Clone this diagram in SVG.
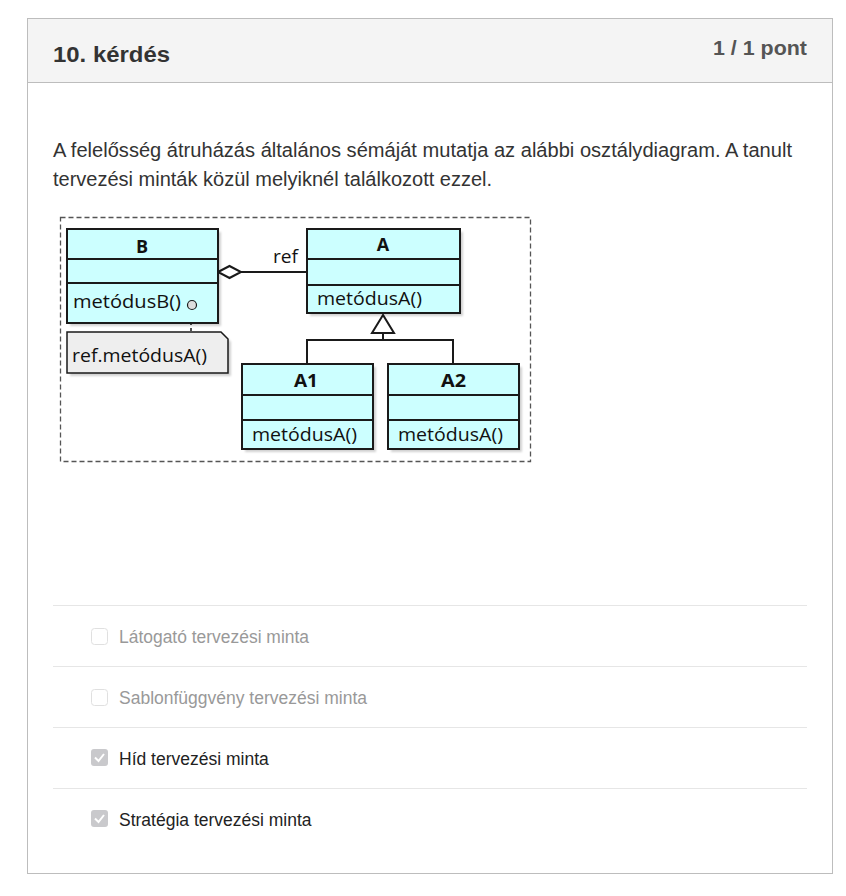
<svg xmlns="http://www.w3.org/2000/svg" width="846" height="896" viewBox="0 0 846 896">
<defs>
<style>
.ui{font-family:Arial,"Liberation Sans",sans-serif}
.dg{font-family:"Open Sans","Noto Sans",sans-serif;fill:#111;font-size:18px}
.cls{fill:#ccffff;stroke:#1a1a1a;stroke-width:2}
.sep{stroke:#1a1a1a;stroke-width:2}
.con{stroke:#1a1a1a;stroke-width:2;fill:none}
.shadow{fill:#000;opacity:0.18}
.hr{stroke:#e6e6e6;stroke-width:1}
.cb{fill:#fff;stroke:#e0e0e0;stroke-width:1}
.cbc{fill:#c9c9cc;stroke:none}
.opt{font-size:17.5px}
</style>
<filter id="blur" x="-10%" y="-10%" width="130%" height="130%"><feGaussianBlur stdDeviation="1.2"/></filter>
</defs>
<rect x="0" y="0" width="846" height="896" fill="#fff"/>
<g id="card">
<rect x="27.5" y="18.5" width="805" height="855" fill="#fff" stroke="#bdbdbd"/>
<rect x="28" y="19" width="804" height="63" fill="#f4f4f4"/>
<line x1="28" y1="82.5" x2="832" y2="82.5" stroke="#bdbdbd"/>
<text class="ui" x="53" y="62" font-size="22" font-weight="bold" fill="#333" textLength="117" lengthAdjust="spacingAndGlyphs">10. kérdés</text>
<text class="ui" x="713" y="55" font-size="21" font-weight="bold" fill="#555" textLength="94" lengthAdjust="spacingAndGlyphs">1 / 1 pont</text>
<text class="ui" x="53" y="157" font-size="20" fill="#333" textLength="739" lengthAdjust="spacingAndGlyphs">A felelősség átruházás általános sémáját mutatja az alábbi osztálydiagram. A tanult</text>
<text class="ui" x="53" y="186" font-size="20" fill="#333">tervezési minták közül melyiknél találkozott ezzel.</text>
</g>
<g id="frame">
<rect x="60.5" y="217.5" width="470" height="244" fill="#fff" stroke="#555" stroke-width="1.3" stroke-dasharray="5,3"/>
</g>
<g id="connectors">
<line class="con" x1="241" y1="272" x2="307" y2="272"/>
<polygon points="218,272 229.5,266 241,272 229.5,278" fill="#fff" stroke="#1a1a1a" stroke-width="2"/>
<text class="dg" x="273" y="263" textLength="25" lengthAdjust="spacingAndGlyphs">ref</text>
<polyline class="con" points="307,364 307,340 453,340 453,364"/>
<line class="con" x1="383" y1="333" x2="383" y2="340"/>
<polygon points="383,315 372,333 394,333" fill="#fff" stroke="#1a1a1a" stroke-width="2"/>
<line x1="191" y1="310" x2="191" y2="332" stroke="#1a1a1a" stroke-width="1.5" stroke-dasharray="3,3"/>
</g>
<g id="B">
<rect class="shadow" x="70" y="232" width="151" height="94" filter="url(#blur)"/>
<rect class="cls" x="67" y="229" width="151" height="94"/>
<line class="sep" x1="67" y1="259" x2="218" y2="259"/>
<line class="sep" x1="67" y1="283" x2="218" y2="283"/>
<text class="dg" x="142" y="253" font-weight="bold" text-anchor="middle">B</text>
<text class="dg" x="73" y="308" textLength="108" lengthAdjust="spacingAndGlyphs">metódusB()</text>
<circle cx="192" cy="305" r="4.5" fill="#ddd" stroke="#1a1a1a" stroke-width="1.2"/>
</g>
<g id="note">
<path d="M70,335 H224 L231,342 V376 H70 Z" class="shadow" filter="url(#blur)"/>
<path d="M67,332 H221 L228,339 V373 H67 Z" fill="#eeeeee" stroke="#1a1a1a" stroke-width="1.5"/>
<text class="dg" x="72" y="362" textLength="135" lengthAdjust="spacingAndGlyphs">ref.metódusA()</text>
</g>
<g id="A">
<rect class="shadow" x="310" y="232" width="153" height="84" filter="url(#blur)"/>
<rect class="cls" x="307" y="229" width="153" height="84"/>
<line class="sep" x1="307" y1="259" x2="460" y2="259"/>
<line class="sep" x1="307" y1="285" x2="460" y2="285"/>
<text class="dg" x="383" y="251" font-weight="bold" text-anchor="middle">A</text>
<text class="dg" x="317" y="305" textLength="105" lengthAdjust="spacingAndGlyphs">metódusA()</text>
</g>
<g id="A1">
<rect class="shadow" x="245" y="367" width="131" height="85" filter="url(#blur)"/>
<rect class="cls" x="242" y="364" width="131" height="85"/>
<line class="sep" x1="242" y1="395" x2="373" y2="395"/>
<line class="sep" x1="242" y1="420" x2="373" y2="420"/>
<text class="dg" x="294" y="387" font-weight="bold" textLength="24" lengthAdjust="spacingAndGlyphs">A1</text>
<text class="dg" x="252" y="441" textLength="105" lengthAdjust="spacingAndGlyphs">metódusA()</text>
</g>
<g id="A2">
<rect class="shadow" x="391" y="367" width="131" height="85" filter="url(#blur)"/>
<rect class="cls" x="388" y="364" width="131" height="85"/>
<line class="sep" x1="388" y1="395" x2="519" y2="395"/>
<line class="sep" x1="388" y1="420" x2="519" y2="420"/>
<text class="dg" x="441" y="387" font-weight="bold" textLength="25" lengthAdjust="spacingAndGlyphs">A2</text>
<text class="dg" x="398" y="441" textLength="105" lengthAdjust="spacingAndGlyphs">metódusA()</text>
</g>
<g id="options">
<line class="hr" x1="53" y1="605.5" x2="807" y2="605.5"/>
<line class="hr" x1="53" y1="666.5" x2="807" y2="666.5"/>
<line class="hr" x1="53" y1="727.5" x2="807" y2="727.5"/>
<line class="hr" x1="53" y1="788.5" x2="807" y2="788.5"/>
<g id="opt1">
<rect class="cb" x="91.5" y="628.5" width="16" height="16" rx="3"/>
<text class="ui opt" x="119" y="643" fill="#999" textLength="190" lengthAdjust="spacingAndGlyphs">Látogató tervezési minta</text>
</g>
<g id="opt2">
<rect class="cb" x="91.5" y="689.5" width="16" height="16" rx="3"/>
<text class="ui opt" x="119" y="704" fill="#999" textLength="248" lengthAdjust="spacingAndGlyphs">Sablonfüggvény tervezési minta</text>
</g>
<g id="opt3">
<rect class="cbc" x="91" y="749" width="17" height="17" rx="3"/>
<polyline points="95,757.5 98.5,761 104,754" fill="none" stroke="#fff" stroke-width="2"/>
<text class="ui opt" x="119" y="765" fill="#222">Híd tervezési minta</text>
</g>
<g id="opt4">
<rect class="cbc" x="91" y="810" width="17" height="17" rx="3"/>
<polyline points="95,818.5 98.5,822 104,815" fill="none" stroke="#fff" stroke-width="2"/>
<text class="ui opt" x="119" y="826" fill="#222">Stratégia tervezési minta</text>
</g>
</g>
</svg>
